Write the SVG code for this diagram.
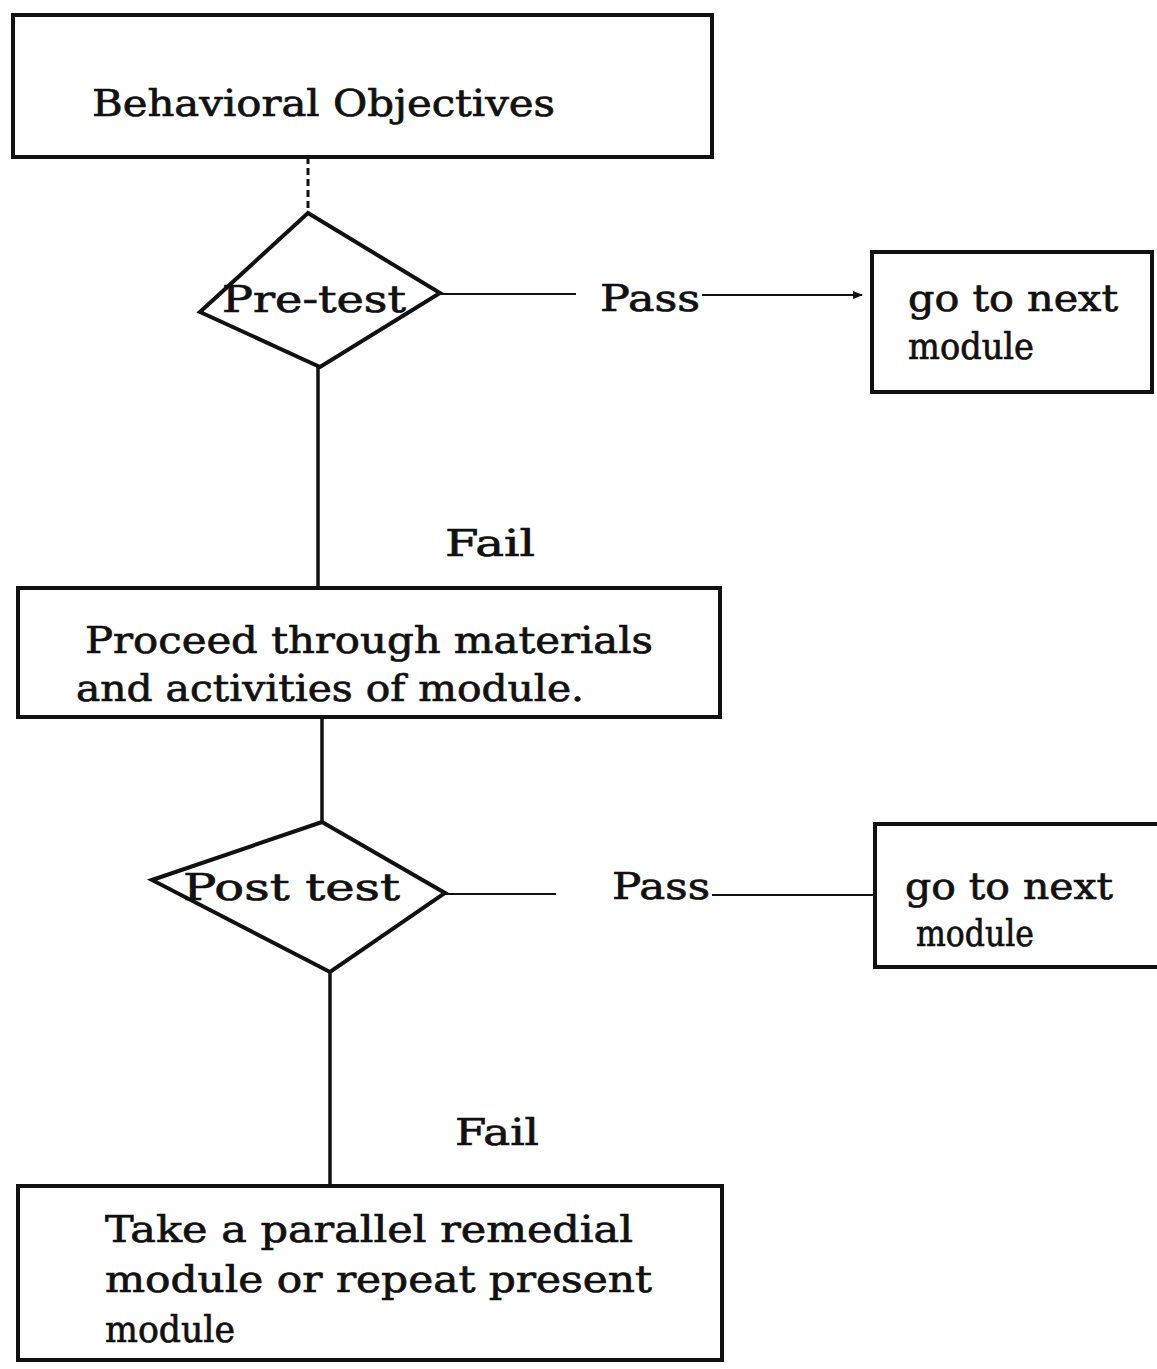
<svg xmlns="http://www.w3.org/2000/svg" width="1157" height="1369" viewBox="0 0 1157 1369">
  <style>
    .box { fill: #ffffff; stroke: #111; stroke-width: 4; }
    .dia { fill: none; stroke: #111; stroke-width: 4; stroke-linejoin: miter; }
    .ln { fill: none; stroke: #111; stroke-width: 3.5; }
    .thin { fill: none; stroke: #111; stroke-width: 2; }
    .dash { fill: none; stroke: #111; stroke-width: 3; stroke-dasharray: 7 4; }
    text { font-family: "DejaVu Serif", "Liberation Serif", serif; font-size: 37px; fill: #111; stroke: #111; stroke-width: 0.7; }
  </style>
  <defs>
    <marker id="arrow" viewBox="0 0 10 10" refX="9" refY="5" markerWidth="5" markerHeight="5" orient="auto">
      <path d="M0,1 L10,5 L0,9 z" fill="#111"/>
    </marker>
  </defs>
  <rect width="1157" height="1369" fill="#ffffff"/>

  <!-- connectors -->
  <g id="connectors">
    <line class="dash" x1="308" y1="157" x2="308" y2="213"/>
    <line class="thin" x1="440" y1="294" x2="576" y2="294"/>
    <line class="thin" x1="702" y1="295" x2="862" y2="295" marker-end="url(#arrow)"/>
    <line class="ln" x1="318" y1="367" x2="318" y2="590"/>
    <line class="ln" x1="322" y1="717" x2="322" y2="822"/>
    <line class="thin" x1="445" y1="894" x2="556" y2="894"/>
    <line class="thin" x1="712" y1="895" x2="876" y2="895"/>
    <line class="ln" x1="330" y1="972" x2="330" y2="1188"/>
    <text x="600" y="311" textLength="100" lengthAdjust="spacingAndGlyphs">Pass</text>
    <text x="445" y="556" textLength="90" lengthAdjust="spacingAndGlyphs">Fail</text>
    <text x="612" y="899" textLength="98" lengthAdjust="spacingAndGlyphs">Pass</text>
    <text x="455" y="1145" textLength="84" lengthAdjust="spacingAndGlyphs">Fail</text>
  </g>

  <!-- start box -->
  <g id="objectives">
    <rect class="box" x="13" y="15" width="699" height="142"/>
    <text x="92" y="116" textLength="463" lengthAdjust="spacingAndGlyphs">Behavioral Objectives</text>
  </g>

  <!-- first decision -->
  <g id="pretest">
    <polygon class="dia" points="308,213 440,293 320,367 200,312"/>
    <text x="222" y="312" textLength="184" lengthAdjust="spacingAndGlyphs">Pre-test</text>
  </g>

  <g id="next1">
    <rect class="box" x="872" y="252" width="280" height="140"/>
    <text x="908" y="311" textLength="210" lengthAdjust="spacingAndGlyphs">go to next</text>
    <text x="908" y="359" textLength="126" lengthAdjust="spacingAndGlyphs">module</text>
  </g>

  <g id="proceed">
    <rect class="box" x="18" y="588" width="702" height="129"/>
    <text x="85" y="653" textLength="568" lengthAdjust="spacingAndGlyphs">Proceed through materials</text>
    <text x="76" y="701" textLength="508" lengthAdjust="spacingAndGlyphs">and activities of module.</text>
  </g>

  <!-- second decision -->
  <g id="posttest">
    <polygon class="dia" points="322,822 445,893 330,972 152,880"/>
    <text x="183" y="900" textLength="217" lengthAdjust="spacingAndGlyphs">Post test</text>
  </g>

  <g id="next2">
    <rect class="box" x="875" y="824" width="285" height="143"/>
    <text x="905" y="899" textLength="208" lengthAdjust="spacingAndGlyphs">go to next</text>
    <text x="916" y="946" textLength="118" lengthAdjust="spacingAndGlyphs">module</text>
  </g>

  <g id="remedial">
    <rect class="box" x="18" y="1186" width="704" height="174"/>
    <text x="105" y="1242" textLength="528" lengthAdjust="spacingAndGlyphs">Take a parallel remedial</text>
    <text x="105" y="1292" textLength="547" lengthAdjust="spacingAndGlyphs">module or repeat present</text>
    <text x="105" y="1342" textLength="130" lengthAdjust="spacingAndGlyphs">module</text>
  </g>
</svg>
